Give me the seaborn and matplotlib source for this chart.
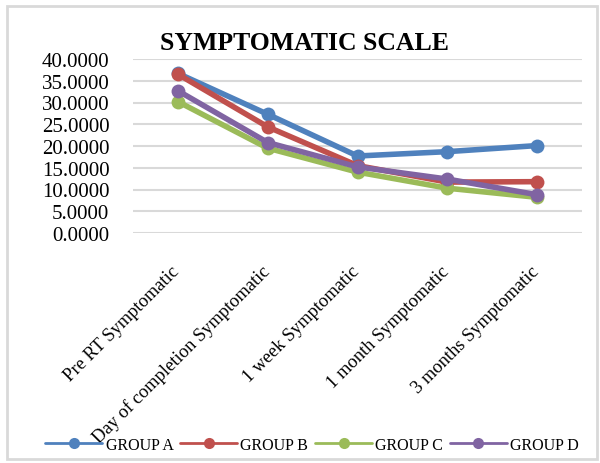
import matplotlib
matplotlib.use("Agg")
import matplotlib.pyplot as plt
from matplotlib.patches import Rectangle
from matplotlib.transforms import ScaledTranslation
import seaborn as sns
import pandas as pd

# Symptomatic scale scores by time point for each group
timepoints = ["Pre RT Symptomatic", "Day of completion Symptomatic", "1 week Symptomatic",
              "1 month Symptomatic", "3 months Symptomatic"]
group_a = [36.7, 27.3, 17.7, 18.7, 20.1]
group_b = [36.5, 24.4, 15.5, 11.7, 11.8]
group_c = [30.2, 19.5, 14.0, 10.3, 8.2]
group_d = [32.7, 20.8, 15.2, 12.4, 8.8]
groups = ["GROUP A", "GROUP B", "GROUP C", "GROUP D"]
yticks = [0, 5, 10, 15, 20, 25, 30, 35, 40]

df = pd.DataFrame({
    "time": timepoints * 4,
    "score": group_a + group_b + group_c + group_d,
    "group": sum([[g] * len(timepoints) for g in groups], []),
})

sns.set_theme(style="white")
plt.rcParams["font.family"] = ["Liberation Serif", "DejaVu Serif"]
plt.rcParams["text.color"] = "black"
plt.rcParams["xtick.color"] = "black"
plt.rcParams["ytick.color"] = "black"

palette = ["#4F81BD", "#C0504D", "#9BBB59", "#8064A2"]

fig = plt.figure(figsize=(6.0, 4.64), dpi=100)
ax = fig.add_axes([133 / 600, 1 - 234 / 464, (582 - 133) / 600, (234 - 60) / 464])

sns.lineplot(data=df, x="time", y="score", hue="group", palette=palette,
             marker="o", markersize=10, linewidth=4, markeredgewidth=0,
             sort=False, ax=ax, legend=True)

ax.set_xlim(-0.5, len(timepoints) - 0.5)
ax.set_ylim(0, 40)
ax.set_yticks(yticks)
ax.set_yticklabels([f"{v:.4f}" for v in yticks], fontsize=15)
ax.set_xticks(range(len(timepoints)))
ax.set_xticklabels(timepoints, rotation=45, ha="right", rotation_mode="anchor", fontsize=13.3)
ax.tick_params(axis="y", length=0, pad=17)
ax.tick_params(axis="x", length=0, pad=21)
shift = ScaledTranslation(-5 / 72, 0, fig.dpi_scale_trans)
for lbl in ax.get_xticklabels():
    lbl.set_transform(lbl.get_transform() + shift)
ax.set_xlabel("")
ax.set_ylabel("")
ax.yaxis.grid(True, color="#d9d9d9", linewidth=1.5)
ax.set_axisbelow(True)
for s in ax.spines.values():
    s.set_visible(False)

fig.text(305 / 600, 1 - 43 / 464, "SYMPTOMATIC SCALE", ha="center", va="center",
         fontsize=18.5, fontweight="bold")

handles, labels = ax.get_legend_handles_labels()
ax.legend(handles, labels, loc="center", bbox_to_anchor=(312 / 600, 1 - 446 / 464),
          bbox_transform=fig.transFigure, ncol=4, frameon=False, fontsize=11.5,
          handlelength=3.6, handletextpad=0.2, columnspacing=0.4, markerscale=0.8)
for line in ax.get_legend().get_lines():
    line.set_linewidth(2)

fig.patches.append(Rectangle((7 / 600, 1 - 460 / 464), 590 / 600, 453 / 464,
                             transform=fig.transFigure, fill=False,
                             edgecolor="#d9d9d9", linewidth=2))

fig.savefig("out.png", dpi=100)
